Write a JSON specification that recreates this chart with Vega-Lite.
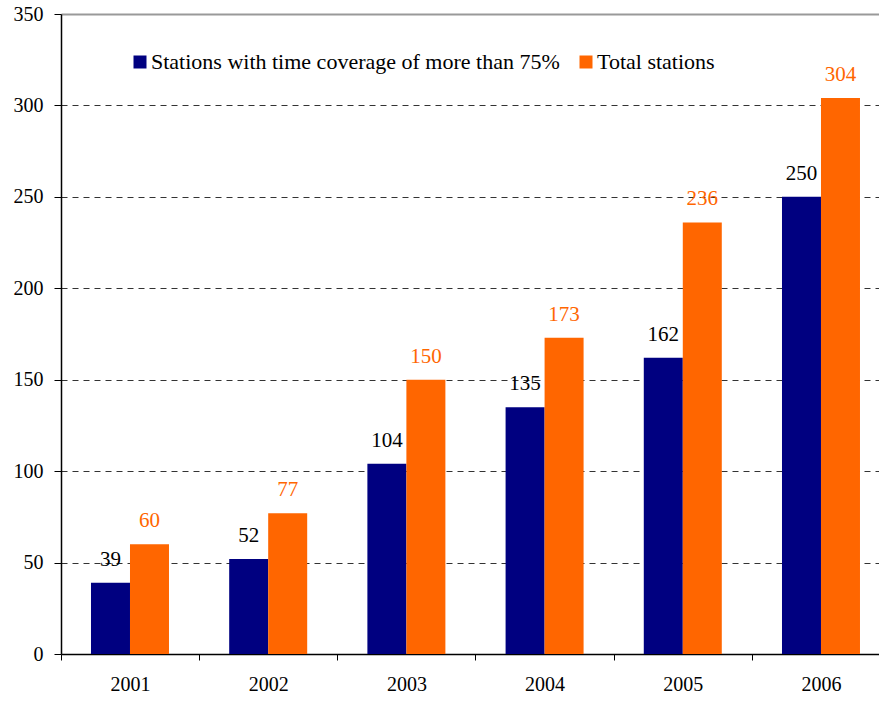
{
  "$schema": "https://vega.github.io/schema/vega-lite/v6.json",
  "width": 818,
  "height": 640,
  "autosize": {"type": "none"},
  "padding": {"left": 61, "top": 14, "right": 0, "bottom": 48},
  "background": "white",
  "config": {
    "view": {"stroke": null},
    "font": "Liberation Serif"
  },
  "data": {
    "values": [
      {"year": "2001", "series": "Stations with time coverage of more than 75%", "value": 39},
      {"year": "2001", "series": "Total stations", "value": 60},
      {"year": "2002", "series": "Stations with time coverage of more than 75%", "value": 52},
      {"year": "2002", "series": "Total stations", "value": 77},
      {"year": "2003", "series": "Stations with time coverage of more than 75%", "value": 104},
      {"year": "2003", "series": "Total stations", "value": 150},
      {"year": "2004", "series": "Stations with time coverage of more than 75%", "value": 135},
      {"year": "2004", "series": "Total stations", "value": 173},
      {"year": "2005", "series": "Stations with time coverage of more than 75%", "value": 162},
      {"year": "2005", "series": "Total stations", "value": 236},
      {"year": "2006", "series": "Stations with time coverage of more than 75%", "value": 250},
      {"year": "2006", "series": "Total stations", "value": 304}
    ]
  },
  "encoding": {
    "x": {
      "field": "year",
      "type": "nominal",
      "scale": {"paddingInner": 0.4356, "paddingOuter": 0.1773, "align": 0.612},
      "axis": {
        "title": null,
        "labelAngle": 0,
        "labelFont": "Liberation Serif",
        "labelFontSize": 20,
        "labelColor": "black",
        "labelPadding": 14,
        "tickOffset": -69.1,
        "labelOffset": 69.1,
        "tickSize": 6,
        "tickColor": "black",
        "domainColor": "black",
        "domainWidth": 1.5,
        "grid": false
      }
    },
    "xOffset": {
      "field": "series",
      "type": "nominal",
      "sort": ["Stations with time coverage of more than 75%", "Total stations"],
      "scale": {"paddingInner": 0, "paddingOuter": 0}
    },
    "y": {
      "field": "value",
      "type": "quantitative",
      "scale": {"domain": [0, 350], "nice": false, "zero": true},
      "axis": {
        "title": null,
        "values": [0, 50, 100, 150, 200, 250, 300, 350],
        "labelFont": "Liberation Serif",
        "labelFontSize": 20,
        "labelColor": "black",
        "labelPadding": 11,
        "tickSize": 7,
        "tickColor": "black",
        "domainColor": "black",
        "domainWidth": 1.5,
        "grid": true,
        "gridColor": {"condition": {"test": "datum.value == 350", "value": "#999999"}, "value": "#333333"},
        "gridDash": {"condition": {"test": "datum.value == 350", "value": []}, "value": [6, 5]},
        "gridWidth": {"condition": {"test": "datum.value == 350", "value": 2}, "value": 1},
        "gridOpacity": {"condition": {"test": "datum.value == 0", "value": 0}, "value": 1}
      }
    }
  },
  "layer": [
    {
      "mark": {"type": "bar"},
      "encoding": {
        "color": {
          "field": "series",
          "type": "nominal",
          "sort": ["Stations with time coverage of more than 75%", "Total stations"],
          "scale": {"range": ["#000080", "#FF6600"]},
          "legend": {
            "title": null,
            "orient": "none",
            "direction": "horizontal",
            "legendX": 68,
            "legendY": 37,
            "padding": 0,
            "symbolType": "square",
            "symbolSize": 169,
            "symbolStrokeWidth": 0,
            "labelFont": "Liberation Serif",
            "labelFontSize": 22,
            "labelColor": "black",
            "labelOffset": 0,
            "columnPadding": 15,
            "labelLimit": 600
          }
        }
      }
    },
    {
      "mark": {"type": "text", "baseline": "alphabetic", "align": "center", "dy": -17, "fontSize": 21, "font": "Liberation Serif"},
      "encoding": {
        "text": {"field": "value", "type": "quantitative"},
        "color": {
          "field": "series",
          "type": "nominal",
          "sort": ["Stations with time coverage of more than 75%", "Total stations"],
          "scale": {"range": ["#000000", "#FF6600"]},
          "legend": null
        }
      }
    }
  ],
  "resolve": {"scale": {"color": "independent"}}
}
